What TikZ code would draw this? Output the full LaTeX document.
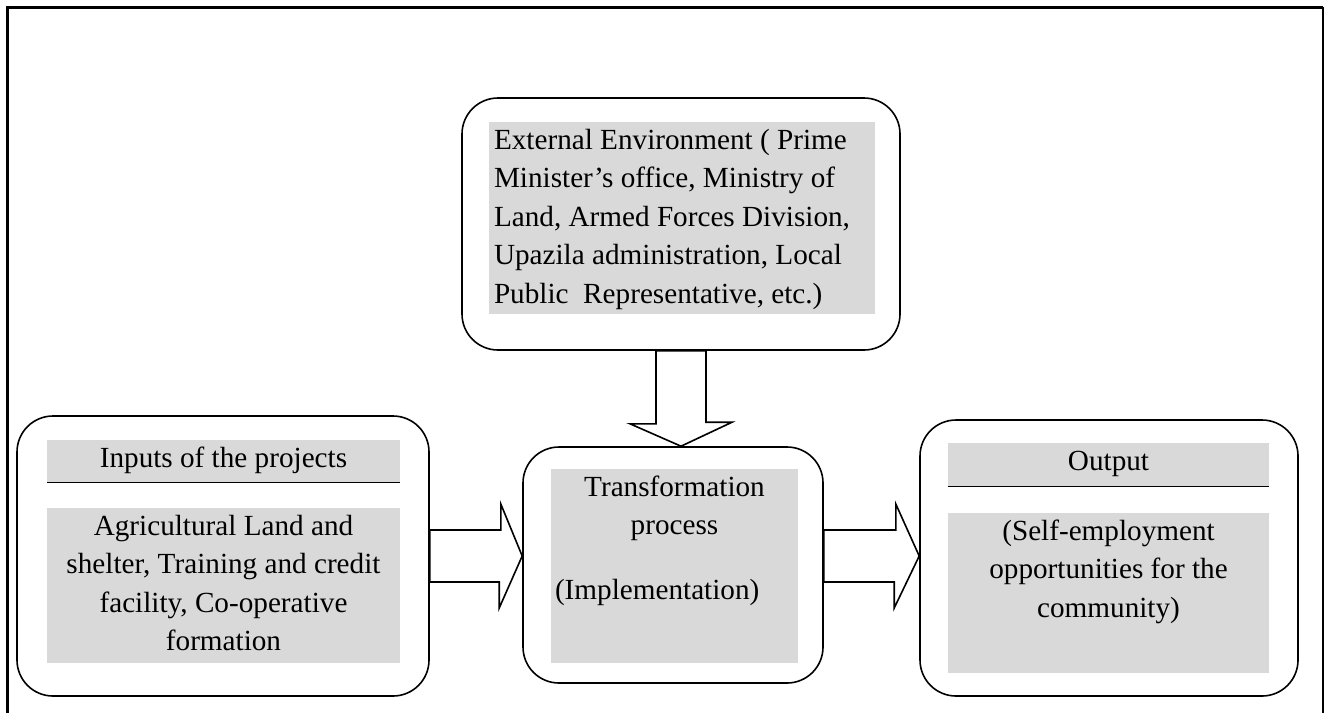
\documentclass[tikz,border=0pt]{standalone}
\usepackage{fontspec}
\setmainfont{Liberation Serif}
\usepackage{tikz}
\usepackage{xcolor}
\usetikzlibrary{calc}

\definecolor{boxgrey}{HTML}{D9D9D9}
\newcommand{\boxfont}{\fontsize{14.6}{19.3}\selectfont}
\tikzset{
  roundbox/.style={draw, line width=0.8pt, rounded corners=18pt, fill=white},
  greybox/.style={fill=boxgrey, inner sep=0pt, font=\boxfont},
  blockarrow/.style={draw, line width=0.8pt, fill=white, line join=miter},
}

\begin{document}
\begin{tikzpicture}[x=0.5pt, y=-0.5pt]
	% Frame:
	\useasboundingbox (0,0) rectangle (1325,713);
	\draw[line width=1.5pt] (7,713) -- (7,7) -- (1323,7);
	\draw[line width=1pt] (1323,7) -- (1323,713);
	% Rounded boxes:
	\node[roundbox, minimum width=219pt, minimum height=126pt](ext) at (681,224){};
	\node[roundbox, minimum width=150pt, minimum height=118pt](trans) at (673,565){};
	\node[roundbox, minimum width=206pt, minimum height=140pt](inp) at (223,556){};
	\node[roundbox, minimum width=189pt, minimum height=138pt](out) at (1109,558){};
	% Grey text fields:
	\node[greybox, inner xsep=2.5pt](extTxt) at (682,218){\parbox[c][96pt][t]{188pt}{\raggedright\strut External Environment ( Prime\\ Minister's office, Ministry of\\ Land, Armed Forces Division,\\ Upazila administration, Local\\ Public~ Representative, etc.)}};
	\node[greybox](transTxt) at (674.5,566){\parbox[c][97pt][t]{123.5pt}{{\centering\strut Transformation\\ process\par}\vspace{13pt}\hspace*{2pt}(Implementation)}};
	\node[greybox](inpHead) at (223.5,461){\parbox[c][21pt][t]{176.5pt}{\centering\strut Inputs of the projects}};
	\node[greybox](inpBody) at (223.5,585.5){\parbox[c][77.5pt][t]{176.5pt}{\centering\strut Agricultural Land and\\ shelter, Training and credit\\ facility, Co-operative\\ formation}};
	\node[greybox](outHead) at (1108.5,464.5){\parbox[c][21.5pt][t]{160.5pt}{\centering\strut Output}};
	\node[greybox](outBody) at (1108.5,593){\parbox[c][80pt][t]{160.5pt}{\centering\strut (Self-employment\\ opportunities for the\\ community)}};
	\draw[line width=0.8pt] (inpHead.south west) -- (inpHead.south east);
	\draw[line width=0.8pt] (outHead.south west) -- (outHead.south east);
	% Block arrows:
	\draw[blockarrow] ($(ext.south)+(-25,0)$) -- ++(0,73) -- ++(-26,0) -- (ext.south |- trans.north) -- ++(51,-24) -- ++(-26,0) -- ($(ext.south)+(25,0)$) -- cycle;
	\draw[blockarrow] ($(inp.east)+(0,-26)$) -- ++(71,0) -- ++(0,-26) -- (trans.west |- inp.east) -- ++(-23,52) -- ++(0,-26) -- ($(inp.east)+(0,26)$) -- cycle;
	\draw[blockarrow] ($(trans.east |- inp.east)+(0,-26)$) -- ++(72,0) -- ++(0,-26) -- (out.west |- inp.east) -- ++(-25,52) -- ++(0,-26) -- ($(trans.east |- inp.east)+(0,26)$) -- cycle;
\end{tikzpicture}
\end{document}
